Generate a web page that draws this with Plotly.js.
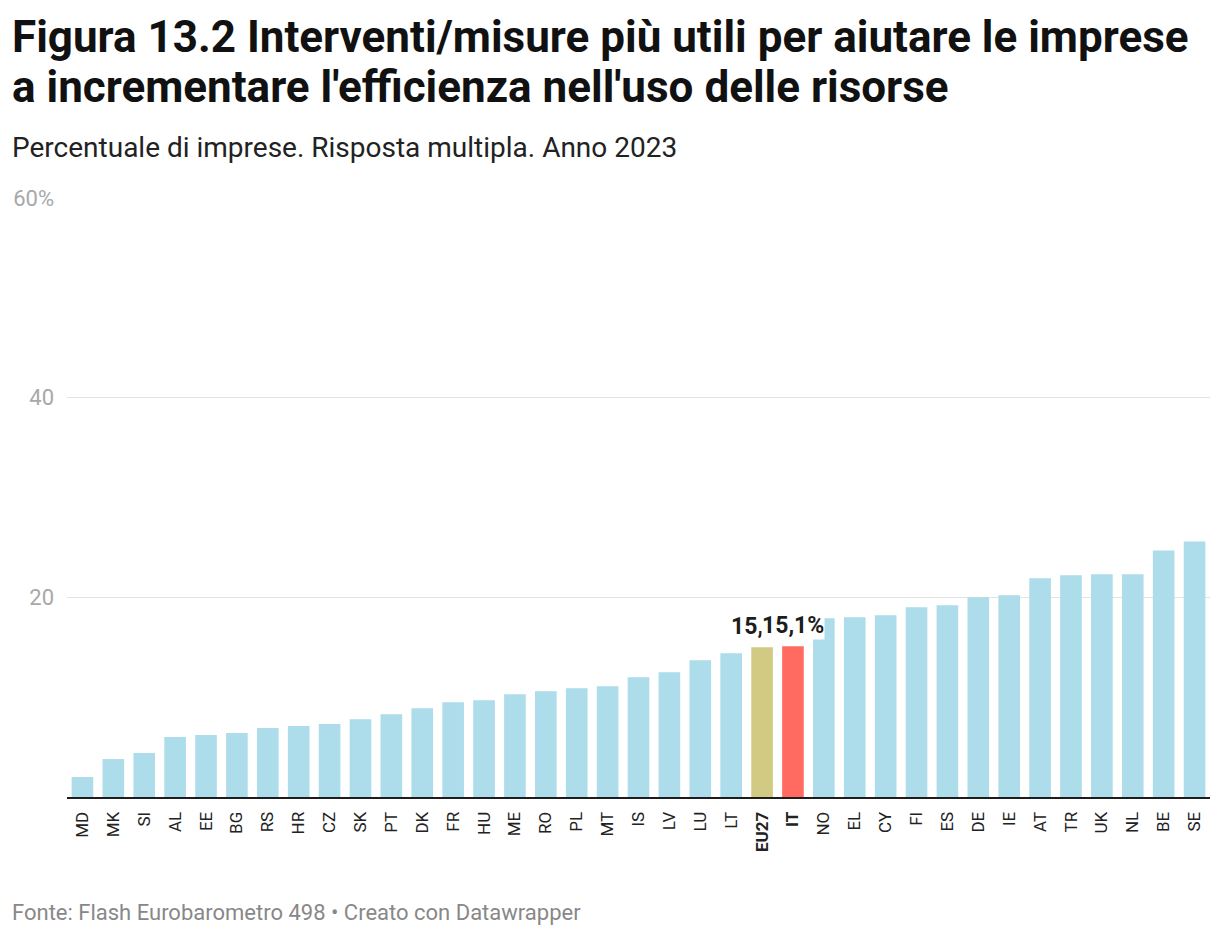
<!DOCTYPE html>
<html>
<head>
<meta charset="utf-8">
<script src="https://cdn.plot.ly/plotly-3.0.1.min.js"></script>
<style>
  html, body { margin: 0; padding: 0; background: #fff; }
  #chart { width: 1220px; height: 936px; }
</style>
</head>
<body>
<div id="chart"></div>
<script>
const categories = ["MD","MK","SI","AL","EE","BG","RS","HR","CZ","SK","PT","DK","FR","HU","ME","RO","PL","MT","IS","LV","LU","LT","EU27","IT","NO","EL","CY","FI","ES","DE","IE","AT","TR","UK","NL","BE","SE"];
const values = [2.0,3.8,4.4,6.0,6.2,6.4,6.9,7.1,7.3,7.8,8.3,8.9,9.5,9.7,10.3,10.6,10.9,11.1,12.0,12.5,13.7,14.4,15.0,15.1,17.9,18.0,18.2,19.0,19.2,20.0,20.2,21.9,22.2,22.3,22.3,24.7,25.6];
const highlightColors = {"EU27": "#d2c982", "IT": "#ff6b61"};
const defaultColor = "#addcea";
const boldCategories = ["EU27", "IT"];
const labelledCategories = ["EU27", "IT"];
const yTickVals = [20, 40, 60];
const yTickText = ["20", "40", "60%"];
const titleLines = ["Figura 13.2 Interventi/misure più utili per aiutare le imprese", "a incrementare l'efficienza nell'uso delle risorse"];
const subtitleText = "Percentuale di imprese. Risposta multipla. Anno 2023";
const footerText = "Fonte: Flash Eurobarometro 498 • Creato con Datawrapper";

const colors = categories.map(c => highlightColors[c] || defaultColor);
const tickText = categories.map(c => boldCategories.includes(c) ? "<b>" + c + "</b>" : c);
const fmt = v => v.toFixed(1).replace(".", ",") + "%";

const trace = {
  type: "bar",
  x: categories,
  y: values,
  marker: { color: colors, line: { width: 0 } },
  hoverinfo: "skip"
};

const leftX = -0.0499;
const annotations = [];
labelledCategories.forEach(c => {
  const i = categories.indexOf(c);
  annotations.push({
    x: c, y: values[i], xref: "x", yref: "y",
    text: fmt(values[i]),
    showarrow: false,
    yanchor: "bottom",
    yshift: 6,
    font: { family: "Roboto", size: 23, color: "#1d1d1d", weight: 700 },
    bgcolor: c === "IT" ? "#ffffff" : "rgba(0,0,0,0)",
    borderpad: 0
  });
});
const titleY = [1.2688, 1.1853];
titleLines.forEach((t, k) => {
  annotations.push({
    text: t, xref: "paper", yref: "paper",
    x: leftX, y: titleY[k], xanchor: "left", yanchor: "middle",
    showarrow: false, align: "left",
    font: { family: "Roboto", size: 44, color: "#111", weight: 700 }
  });
});
annotations.push({
  text: subtitleText, xref: "paper", yref: "paper",
  x: leftX, y: 1.0851, xanchor: "left", yanchor: "middle",
  showarrow: false, align: "left",
  font: { family: "Roboto", size: 28, color: "#222" }
});
annotations.push({
  text: footerText, xref: "paper", yref: "paper",
  x: leftX, y: -0.192, xanchor: "left", yanchor: "middle",
  showarrow: false, align: "left",
  font: { family: "Roboto", size: 22, color: "#888" }
});

const layout = {
  width: 1220, height: 936,
  paper_bgcolor: "#fff", plot_bgcolor: "#fff",
  margin: { l: 67, r: 10, t: 198, b: 139 },
  showlegend: false,
  bargap: 0.3,
  xaxis: {
    type: "category",
    range: [-0.5, categories.length - 0.5],
    tickvals: categories,
    ticktext: tickText,
    tickangle: -90,
    tickfont: { family: "Roboto", size: 17, color: "#222" },
    ticks: "",
    ticklabelstandoff: 6,
    showgrid: false,
    showline: true, linecolor: "#1d1d1d", linewidth: 2,
    zeroline: false,
    fixedrange: true
  },
  yaxis: {
    range: [0, 60],
    tickvals: yTickVals,
    ticktext: yTickText,
    tickfont: { family: "Roboto", size: 22, color: "#a8a8a8" },
    ticks: "",
    ticklabelstandoff: 12,
    showgrid: true, gridcolor: "#e3e3e3", gridwidth: 1.5,
    zeroline: false,
    showline: false,
    fixedrange: true
  },
  annotations: annotations,
  font: { family: "Roboto" }
};

Plotly.newPlot("chart", [trace], layout, { displayModeBar: false, staticPlot: true });
</script>
</body>
</html>
